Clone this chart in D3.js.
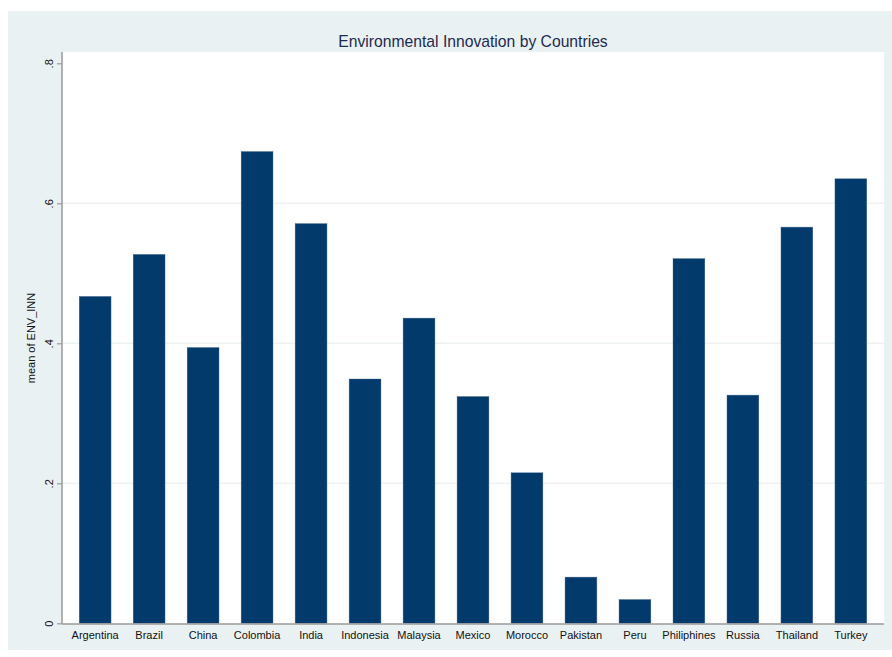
<!DOCTYPE html>
<html>
<head>
<style>
  body { margin: 0; background: #fff; font-family: "Liberation Sans", Arial, sans-serif; }
  svg text { fill: #111; }
</style>
</head>
<body>
<script src="https://d3js.org/d3.v7.min.js"></script>
<script>
// data
const countries = ["Argentina", "Brazil", "China", "Colombia", "India", "Indonesia", "Malaysia",
  "Mexico", "Morocco", "Pakistan", "Peru", "Philiphines", "Russia", "Thailand", "Turkey"];
const meanEnvInn = [0.467, 0.527, 0.394, 0.674, 0.571, 0.349, 0.436,
  0.324, 0.215, 0.066, 0.034, 0.521, 0.326, 0.566, 0.635];
const yTicks = [0, 0.2, 0.4, 0.6, 0.8];
const yTickLabels = ["0", ".2", ".4", ".6", ".8"];

const width = 892, height = 657;
const plot = { left: 62, right: 884, top: 52, bottom: 624 };

const svg = d3.select("body").append("svg")
  .attr("width", width)
  .attr("height", height);

// outer graph region
svg.append("rect")
  .attr("x", 8).attr("y", 11)
  .attr("width", width - 8).attr("height", 639)
  .attr("fill", "#eaf1f3");

// plot region
svg.append("rect")
  .attr("x", plot.left).attr("y", plot.top)
  .attr("width", plot.right - plot.left).attr("height", plot.bottom - plot.top)
  .attr("fill", "#fff");

const x = d3.scaleBand()
  .domain(countries)
  .range([plot.left + 1, plot.right - 1])
  .paddingInner(0.41)
  .paddingOuter(0.3);

const y = d3.scaleLinear()
  .domain([0, 0.8])
  .range([623.3, 63.3]);

// gridlines
svg.append("g")
  .selectAll("line")
  .data(yTicks.filter(d => d > 0 && d < 0.8))
  .join("line")
  .attr("x1", plot.left).attr("x2", plot.right)
  .attr("y1", d => y(d)).attr("y2", d => y(d))
  .attr("stroke", "#eef2f3")
  .attr("stroke-width", 1.5);

// bars
svg.append("g")
  .selectAll("rect")
  .data(countries)
  .join("rect")
  .attr("x", d => x(d))
  .attr("width", x.bandwidth())
  .attr("y", (d, i) => y(meanEnvInn[i]))
  .attr("height", (d, i) => y(0) - y(meanEnvInn[i]))
  .attr("fill", "#023a6b")
  .attr("stroke", "#4f6f93")
  .attr("stroke-width", 0.4);

// y axis
const yAxis = svg.append("g")
  .attr("transform", `translate(${plot.left},0)`)
  .call(d3.axisLeft(y).tickValues(yTicks).tickFormat((d, i) => yTickLabels[i]).tickSize(5).tickPadding(3));
yAxis.select(".domain")
  .attr("d", `M0,${plot.top}V${plot.bottom}`)
  .attr("stroke", "#9a9a9a").attr("stroke-width", 1.5);
yAxis.selectAll(".tick line").attr("stroke", "#9a9a9a").attr("stroke-width", 1.2);
yAxis.selectAll(".tick text")
  .attr("x", null).attr("dy", null)
  .attr("transform", "translate(-9,0) rotate(-90)")
  .attr("text-anchor", "middle")
  .style("font-family", "'Liberation Sans', Arial, sans-serif")
  .style("font-size", "11px")
  .style("fill", "#111");

// x axis
const xAxis = svg.append("g")
  .attr("transform", `translate(0,${plot.bottom})`)
  .call(d3.axisBottom(x).tickSize(0).tickPadding(7));
xAxis.select(".domain")
  .attr("d", `M${plot.left},0H${plot.right}`)
  .attr("stroke", "#9a9a9a").attr("stroke-width", 1.5);
xAxis.selectAll(".tick text")
  .style("font-family", "'Liberation Sans', Arial, sans-serif")
  .style("font-size", "11px")
  .style("fill", "#111");

// y axis title
svg.append("text")
  .attr("transform", `translate(35,${(plot.top + plot.bottom) / 2}) rotate(-90)`)
  .attr("text-anchor", "middle")
  .style("font-size", "11px")
  .text("mean of ENV_INN");

// title
svg.append("text")
  .attr("x", (plot.left + plot.right) / 2)
  .attr("y", 47)
  .attr("text-anchor", "middle")
  .style("font-size", "15.7px")
  .style("fill", "#1e2b4e")
  .text("Environmental Innovation by Countries");
</script>
</body>
</html>
